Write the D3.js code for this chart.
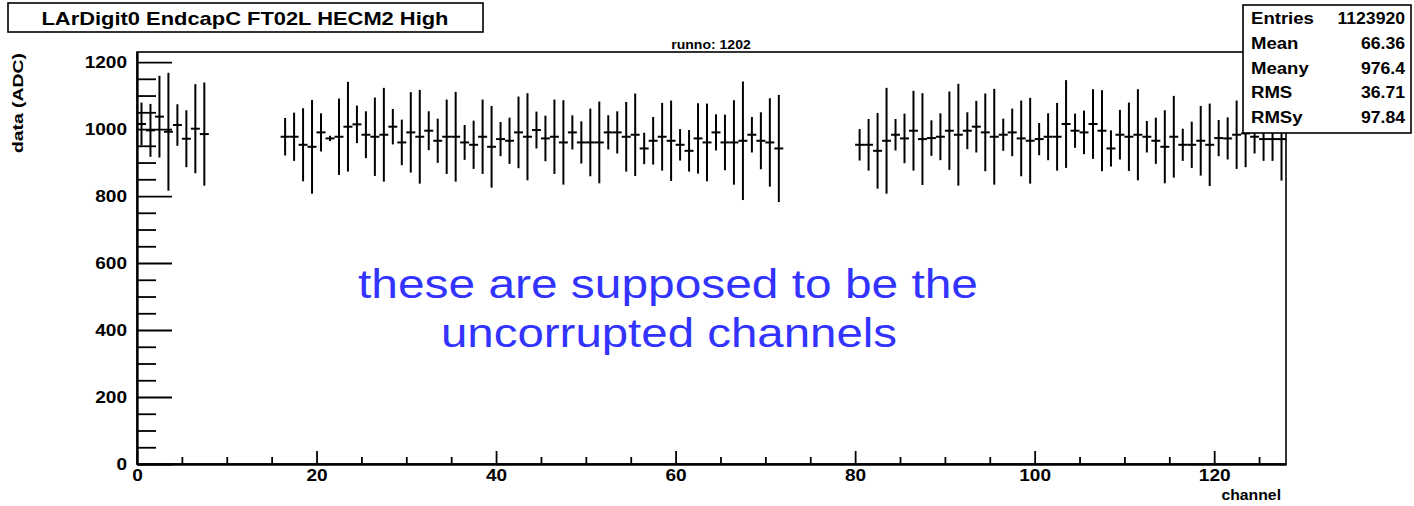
<!DOCTYPE html>
<html>
<head>
<meta charset="utf-8">
<script src="https://cdn.jsdelivr.net/npm/d3@7"></script>
<style>
  body { margin: 0; background: #fff; }
  svg { display: block; }
  text { font-family: "Liberation Sans", Arial, Helvetica, sans-serif; }
</style>
</head>
<body>
<svg id="chart" width="1414" height="506"></svg>
<script>
// Mean ADC value per channel (bin index = channel); null = empty channel
const adcMean = [
  1015, 996, 1037, 992, 1012, 971, 1001, 985,
  null, null, null, null, null, null, null, null,
  977, 977, 953, 947, 990, 972, 977, 1007,
  1014, 983, 977, 983, 1007, 960, 990, 977,
  995, 965, 977, 977, 960, 953, 977, 947,
  970, 965, 990, 977, 997, 972, 977, 960,
  990, 960, 960, 960, 990, 990, 977, 983,
  942, 965, 977, 965, 953, 935, 972, 960,
  990, 960, 960, 965, 983, 965, 960, 942,
  null, null, null, null, null, null, null, null,
  953, 953, 935, 965, 983, 972, 995, 970,
  973, 977, 995, 983, 995, 1007, 990, 977,
  983, 990, 972, 965, 970, 977, 977, 1015,
  995, 990, 1015, 995, 942, 983, 977, 983,
  977, 965, 947, 977, 953, 953, 965, 953,
  973, 972, 983, 987, 977, 970, 970, 970
];

// Error (spread) per channel
const adcErr = [
  64, 79, 122, 176, 62, 85, 133, 154,
  null, null, null, null, null, null, null, null,
  56, 72, 109, 140, 57, 8, 114, 134,
  56, 70, 117, 140, 53, 68, 120, 140,
  58, 66, 111, 134, 52, 72, 111, 122,
  51, 69, 107, 130, 55, 68, 111, 126,
  51, 63, 101, 122, 51, 63, 104, 123,
  47, 71, 101, 120, 47, 62, 105, 116,
  54, 83, 126, 177, 53, 85, 132, 160,
  null, null, null, null, null, null, null, null,
  47, 77, 113, 158, 47, 74, 119, 137,
  53, 70, 117, 152, 55, 77, 116, 143,
  48, 71, 113, 128, 48, 70, 101, 131,
  51, 65, 104, 121, 54, 74, 102, 136,
  47, 69, 109, 122, 48, 69, 104, 123,
  54, 63, 102, 101, 50, 65, 65, 124
];

const xTicksMajor = [0, 20, 40, 60, 80, 100, 120];
const xTicksMinor = [5, 10, 15, 25, 30, 35, 45, 50, 55, 65, 70, 75, 85, 90, 95, 105, 110, 115, 125];
const yTicksMajor = [0, 200, 400, 600, 800, 1000, 1200];
const yTicksMinor = [50, 100, 150, 250, 300, 350, 450, 500, 550, 650, 700, 750, 850, 900, 950, 1050, 1100, 1150];

const statLabels = ["Entries", "Mean", "Meany", "RMS", "RMSy"];
const statValues = ["1123920", "66.36", "976.4", "36.71", "97.84"];

const histTitle = "LArDigit0 EndcapC FT02L HECM2 High";
const runLabel = "runno: 1202";
const xTitle = "channel";
const yTitle = "data (ADC)";
const noteLines = ["these are supposed to be the", "uncorrupted channels"];

const svg = d3.select("#chart");

const frame = { left: 137, right: 1286, top: 52, bottom: 464 };
const x = d3.scaleLinear().domain([0, 128]).range([frame.left, frame.right]);
const y = d3.scaleLinear().domain([0, 1230]).range([frame.bottom, frame.top]);

// widen text along its baseline
function widen(sel, k) {
  sel.each(function () {
    const w = this.getComputedTextLength();
    d3.select(this).attr("textLength", w * k).attr("lengthAdjust", "spacingAndGlyphs");
  });
}

// frame box (right and top sides)
svg.append("rect")
  .attr("x", frame.left).attr("y", frame.top)
  .attr("width", frame.right - frame.left).attr("height", frame.bottom - frame.top)
  .attr("fill", "none").attr("stroke", "#000").attr("stroke-width", 1.6);

// error bars
const bins = adcMean.map((v, i) => ({ ch: i, v, e: adcErr[i] })).filter(d => d.v !== null);
const g = svg.append("g").attr("stroke", "#000").attr("stroke-width", 2).attr("fill", "none");
g.selectAll("line.v").data(bins).enter().append("line")
  .attr("x1", d => x(d.ch + 0.5)).attr("x2", d => x(d.ch + 0.5))
  .attr("y1", d => y(d.v + d.e)).attr("y2", d => y(d.v - d.e));
g.selectAll("line.h").data(bins).enter().append("line")
  .attr("x1", d => x(d.ch)).attr("x2", d => x(d.ch + 1))
  .attr("y1", d => y(d.v)).attr("y2", d => y(d.v));

// axes (ticks point into the frame)
const tickFont = 17;
const yMinor = svg.append("g").attr("transform", `translate(${frame.left},0)`)
  .call(d3.axisLeft(y).tickValues(yTicksMinor).tickSize(-19).tickSizeOuter(0).tickFormat(""));
const yMajor = svg.append("g").attr("transform", `translate(${frame.left},0)`)
  .call(d3.axisLeft(y).tickValues(yTicksMajor).tickSize(-35).tickSizeOuter(0).tickPadding(10).tickFormat(d3.format("d")));
const xMinor = svg.append("g").attr("transform", `translate(0,${frame.bottom})`)
  .call(d3.axisBottom(x).tickValues(xTicksMinor).tickSize(-7).tickSizeOuter(0).tickFormat(""));
const xMajor = svg.append("g").attr("transform", `translate(0,${frame.bottom})`)
  .call(d3.axisBottom(x).tickValues(xTicksMajor).tickSize(-13).tickSizeOuter(0).tickPadding(5).tickFormat(d3.format("d")));

[yMinor, yMajor, xMinor, xMajor].forEach(a => {
  a.selectAll("path, line").attr("stroke", "#000").attr("stroke-width", 1.8);
  a.selectAll("text").attr("fill", "#000").attr("font-size", tickFont).attr("font-weight", "bold")
    .attr("font-family", '"Liberation Sans", Arial, sans-serif');
});
widen(yMajor.selectAll("text"), 1.12);
widen(xMajor.selectAll("text"), 1.12);

// axis titles
svg.append("text")
  .attr("transform", `translate(${1281},${500})`)
  .attr("text-anchor", "end").attr("font-size", 15).attr("font-weight", "bold")
  .text(xTitle).call(widen, 1.05);
svg.append("text")
  .attr("transform", `translate(${23},${53}) rotate(-90)`)
  .attr("text-anchor", "end").attr("font-size", 15.5).attr("font-weight", "bold")
  .text(yTitle).call(widen, 1.25);

// run number label
svg.append("text")
  .attr("x", 711).attr("y", 49).attr("text-anchor", "middle")
  .attr("font-size", 13).attr("font-weight", "bold")
  .text(runLabel).call(widen, 1.08);

// title box
svg.append("rect").attr("x", 8).attr("y", 3).attr("width", 475).attr("height", 29)
  .attr("fill", "#fff").attr("stroke", "#000").attr("stroke-width", 1.6);
svg.append("text")
  .attr("x", 245).attr("y", 25).attr("text-anchor", "middle")
  .attr("font-size", 18.5).attr("font-weight", "bold")
  .attr("textLength", 407).attr("lengthAdjust", "spacingAndGlyphs")
  .text(histTitle);

// statistics box
const sx = 1243, sy = 5, sw = 168, sh = 128;
svg.append("rect").attr("x", sx).attr("y", sy).attr("width", sw).attr("height", sh)
  .attr("fill", "#fff").attr("stroke", "#000").attr("stroke-width", 1.6);
const rows = svg.append("g").attr("font-size", 16).attr("font-weight", "bold");
statLabels.forEach((lab, i) => {
  const by = 24 + i * 24.8;
  rows.append("text").attr("x", 1251).attr("y", by).text(lab).call(widen, 1.16);
  rows.append("text").attr("x", 1405).attr("y", by).attr("text-anchor", "end").text(statValues[i]).call(widen, 1.1);
});

// annotation
const note = svg.append("g").attr("fill", "#3333ff").attr("font-size", 40).attr("text-anchor", "middle");
note.append("text").attr("x", 668).attr("y", 298).attr("textLength", 620).attr("lengthAdjust", "spacingAndGlyphs").text(noteLines[0]);
note.append("text").attr("x", 669).attr("y", 347).attr("textLength", 456).attr("lengthAdjust", "spacingAndGlyphs").text(noteLines[1]);
</script>
</body>
</html>
